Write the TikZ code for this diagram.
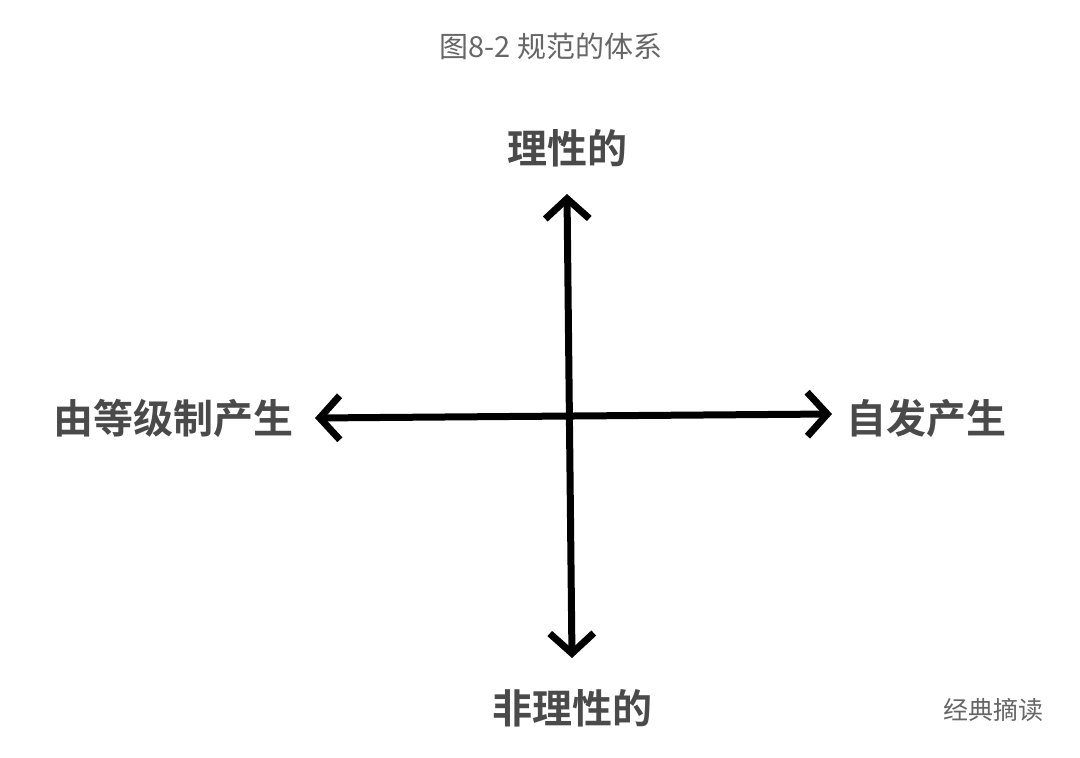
\documentclass[tikz,border=0pt]{standalone}
\usepackage{fontspec}
\newfontfamily\cjk{Noto Sans CJK SC}
\newfontfamily\cjkb{Noto Sans CJK SC Bold}
\usetikzlibrary{arrows.meta}
\definecolor{lab}{HTML}{4A4A4A}
\definecolor{ttl}{HTML}{666666}
\begin{document}
\begin{tikzpicture}[x=1pt,y=-1pt,
  lbl/.style={font=\cjkb\fontsize{40}{44}\selectfont,text=lab,inner sep=0},
  axis/.style={line width=7pt,line cap=round,{Straight Barb[length=20pt,width=44pt,line width=7pt]}-{Straight Barb[length=20pt,width=44pt,line width=7pt]}}]
\useasboundingbox[fill=white] (0,0) rectangle (1080,758);
\node[font=\cjk\fontsize{29}{34}\selectfont,text=ttl] (title) at (551,46) {图8-2 规范的体系};
\node[lbl] (top) at (567,148) {理性的};
\node[lbl] (left) at (173,418) {由等级制产生};
\node[lbl] (right) at (926,418) {自发产生};
\node[lbl] (bottom) at (572,708) {非理性的};
\node[font=\cjk\fontsize{25}{28}\selectfont,text=ttl] (wm) at (993,710) {经典摘读};
\coordinate (t) at (567,194);
\coordinate (b) at (572,658);
\coordinate (l) at (315,418);
\coordinate (r) at (832,414);
\draw[axis] (t) -- (b);
\draw[axis] (l) -- (r);
\end{tikzpicture}
\end{document}
